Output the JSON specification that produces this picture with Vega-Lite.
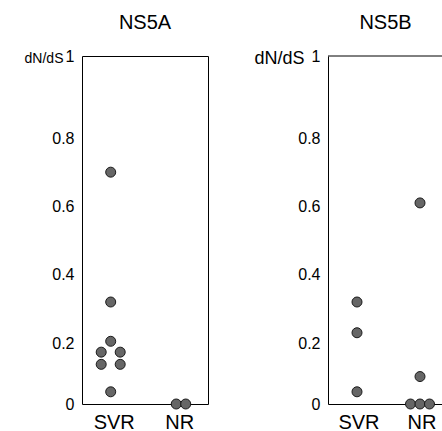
{
  "$schema": "https://vega.github.io/schema/vega-lite/v6.json",
  "background": "white",
  "padding": {"left": 23, "top": 12, "right": 0, "bottom": 0},
  "spacing": 44,
  "data": {
    "values": [
      {"gene": "NS5A", "outcome": "SVR", "dNdS": 0.70, "col": 0},
      {"gene": "NS5A", "outcome": "SVR", "dNdS": 0.32, "col": 0},
      {"gene": "NS5A", "outcome": "SVR", "dNdS": 0.205, "col": 0},
      {"gene": "NS5A", "outcome": "SVR", "dNdS": 0.17, "col": -1},
      {"gene": "NS5A", "outcome": "SVR", "dNdS": 0.17, "col": 1},
      {"gene": "NS5A", "outcome": "SVR", "dNdS": 0.13, "col": -1},
      {"gene": "NS5A", "outcome": "SVR", "dNdS": 0.13, "col": 1},
      {"gene": "NS5A", "outcome": "SVR", "dNdS": 0.04, "col": 0},
      {"gene": "NS5A", "outcome": "NR", "dNdS": 0, "col": 0},
      {"gene": "NS5A", "outcome": "NR", "dNdS": 0, "col": 1},
      {"gene": "NS5B", "outcome": "SVR", "dNdS": 0.32, "col": 0},
      {"gene": "NS5B", "outcome": "SVR", "dNdS": 0.23, "col": 0},
      {"gene": "NS5B", "outcome": "SVR", "dNdS": 0.04, "col": 0},
      {"gene": "NS5B", "outcome": "NR", "dNdS": 0.61, "col": 0},
      {"gene": "NS5B", "outcome": "NR", "dNdS": 0.09, "col": 0},
      {"gene": "NS5B", "outcome": "NR", "dNdS": 0, "col": -1},
      {"gene": "NS5B", "outcome": "NR", "dNdS": 0, "col": 0},
      {"gene": "NS5B", "outcome": "NR", "dNdS": 0, "col": 1}
    ]
  },
  "config": {
    "font": "Liberation Sans",
    "view": {"stroke": "black", "strokeWidth": 1},
    "axis": {"grid": false, "ticks": false, "domain": false, "labelColor": "black", "titleColor": "black", "labelFont": "Liberation Sans", "titleFont": "Liberation Sans"},
    "title": {"fontSize": 20, "fontWeight": "normal", "color": "black", "font": "Liberation Sans", "offset": 15}
  },
  "hconcat": [
    {
      "title": "NS5A",
      "width": 126,
      "height": 348,
      "transform": [{"filter": "datum.gene === 'NS5A'"}],
      "mark": {"type": "circle", "size": 100, "color": "#666666", "stroke": "#1a1a1a", "strokeWidth": 1, "opacity": 1},
      "encoding": {
        "x": {"field": "outcome", "type": "nominal", "sort": ["SVR", "NR"],
              "scale": {"type": "point", "padding": 0.4615, "align": 0.4746},
              "axis": {"title": null, "labelAngle": 0, "labelFontSize": 20, "labelPadding": 8, "labelOffset": 3}},
        "xOffset": {"field": "col", "type": "quantitative", "scale": {"domain": [-1, 1], "range": [-9.5, 9.5]}},
        "y": {"field": "dNdS", "type": "quantitative",
              "scale": {"domain": [0, 0.2, 0.8, 1], "range": [348, 287, 82, 0], "nice": false, "zero": false},
              "axis": {"title": "dN/dS", "titleAngle": 0, "titleAlign": "right", "titleBaseline": "middle",
                       "titleX": -19, "titleY": 2, "titleFontSize": 14, "titleFontWeight": "normal",
                       "values": [0, 0.2, 0.4, 0.6, 0.8, 1], "format": ".1~f", "labelFontSize": 16,
                       "labelPadding": 8, "labelFlush": false, "labelOverlap": false}}
      }
    },
    {
      "title": "NS5B",
      "width": 115,
      "height": 348,
      "view": {"stroke": null},
      "transform": [{"filter": "datum.gene === 'NS5B'"}],
      "layer": [
        {
          "data": {"values": [{}]},
          "mark": {"type": "rule", "color": "black", "strokeWidth": 1},
          "encoding": {
            "y": {"datum": 1, "type": "quantitative",
                  "scale": {"domain": [0, 0.2, 0.8, 1], "range": [348, 287, 82, 0], "nice": false, "zero": false},
                  "axis": {"title": "dN/dS", "titleAngle": 0, "titleAlign": "right", "titleBaseline": "middle",
                           "titleX": -24, "titleY": 2, "titleFontSize": 18, "titleFontWeight": "normal",
                           "values": [0, 0.2, 0.4, 0.6, 0.8, 1], "format": ".1~f", "labelFontSize": 16,
                           "labelPadding": 8, "labelFlush": false, "labelOverlap": false,
                           "domain": true, "domainColor": "black", "domainWidth": 1}}
          }
        },
        {
          "mark": {"type": "circle", "size": 100, "color": "#666666", "stroke": "#1a1a1a", "strokeWidth": 1, "opacity": 1},
          "encoding": {
            "x": {"field": "outcome", "type": "nominal", "sort": ["SVR", "NR"],
                  "scale": {"type": "point", "padding": 0.4127, "align": 0.5577},
                  "axis": {"title": null, "labelAngle": 0, "labelFontSize": 20, "labelPadding": 8, "labelOffset": 1.5, "domain": true, "domainColor": "black", "domainWidth": 1}},
            "xOffset": {"field": "col", "type": "quantitative", "scale": {"domain": [-1, 1], "range": [-11.3, 11.3]}},
            "y": {"field": "dNdS", "type": "quantitative",
                  "scale": {"domain": [0, 0.2, 0.8, 1], "range": [348, 287, 82, 0], "nice": false, "zero": false},
                  "axis": {"title": "dN/dS", "titleAngle": 0, "titleAlign": "right", "titleBaseline": "middle",
                           "titleX": -24, "titleY": 2, "titleFontSize": 18, "titleFontWeight": "normal",
                           "values": [0, 0.2, 0.4, 0.6, 0.8, 1], "format": ".1~f", "labelFontSize": 16,
                           "labelPadding": 8, "labelFlush": false, "labelOverlap": false,
                           "domain": true, "domainColor": "black", "domainWidth": 1}}
          }
        }
      ]
    }
  ]
}
